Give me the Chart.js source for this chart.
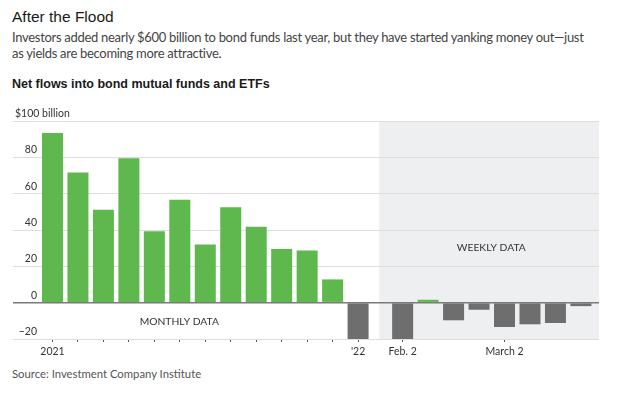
<!DOCTYPE html>
<html>
<head>
<meta charset="utf-8">
<script src="https://cdn.jsdelivr.net/npm/chart.js@4"></script>
<style>
  body { margin: 0; background: #fff; width: 624px; height: 394px; position: relative; overflow: hidden; font-family: 'Liberation Sans', Arial, sans-serif; color: #222; }
  #title { position: absolute; left: 12px; top: 8px; font-size: 15.5px; color: #1a1a1a; }
  #sub { position: absolute; left: 12px; top: 29px; font-family: Lato, 'Noto Sans', sans-serif; font-size: 13px; letter-spacing: -0.3px; line-height: 16px; color: #444; white-space: nowrap; }
  #head { position: absolute; left: 12px; top: 77px; font-size: 12.5px; font-weight: bold; color: #1a1a1a; }
  #source { position: absolute; left: 12px; top: 367px; font-family: Lato, 'Noto Sans', sans-serif; font-size: 11.3px; color: #555; }
  #wrap { position: absolute; left: 0; top: 100px; width: 624px; height: 262px; }
</style>
</head>
<body>
<div id="title">After the Flood</div>
<div id="sub">Investors added nearly $600 billion to bond funds last year, but they have started yanking money out—just<br>as yields are becoming more attractive.</div>
<div id="head">Net flows into bond mutual funds and ETFs</div>
<div id="wrap"><canvas id="barChart"></canvas></div>
<div id="source">Source: Investment Company Institute</div>
<script>
// monthly flows, Jan 2021 - Jan 2022 ($ billion)
var monthLabels = ['Jan 2021', 'Feb', 'Mar', 'Apr', 'May', 'Jun', 'Jul', 'Aug', 'Sep', 'Oct', 'Nov', 'Dec', 'Jan 2022'];
var monthFlows = [93.4, 71.6, 51.1, 79.5, 39.3, 56.6, 32.0, 52.5, 41.8, 29.5, 28.7, 12.8, -20.3];

// weekly flows since Feb. 2 ($ billion)
var weekLabels = ['Feb. 2', 'Feb. 9', 'Feb. 16', 'Feb. 23', 'March 2', 'March 9', 'March 16', 'March 23'];
var weekFlows = [-20.1, 1.6, -9.7, -3.9, -13.4, -11.9, -11.2, -1.9];

// axis labels
var yTicks = [-20, 0, 20, 40, 60, 80, 100];
var xTickText = { 'Jan 2021': '2021', 'Jan 2022': "'22", 'Feb. 2': 'Feb. 2', 'March 2': 'March 2' };

var GREEN = '#5fb84d';
var GRAY = '#6e6e6e';
var WEEK_START = 13.75; // weekly bars sit a bit further right than the monthly slots
var SHADE_FROM = 12.83;

var points = [];
var tickPos = [];
var tickName = {};
monthLabels.forEach(function(m, i) {
	points.push({ x: i, y: monthFlows[i] });
	tickPos.push(i);
	tickName[i] = xTickText[m] || '';
});
weekLabels.forEach(function(w, i) {
	var x = WEEK_START + i;
	points.push({ x: x, y: weekFlows[i] });
	if (xTickText[w]) {
		tickPos.push(x);
		tickName[x] = xTickText[w];
	}
});

var extras = {
	id: 'extras',
	beforeDraw: function(chart) {
		var c = chart.ctx, a = chart.chartArea, xs = chart.scales.x;
		c.save();
		c.fillStyle = '#eeeff1';
		var x0 = xs.getPixelForValue(SHADE_FROM);
		c.fillRect(x0, a.top, a.right - x0, a.bottom - a.top);
		c.restore();
	},
	afterDraw: function(chart) {
		var c = chart.ctx, ys = chart.scales.y, xs = chart.scales.x;
		c.save();
		c.fillStyle = '#333';
		c.font = '10.5px Lato, "Noto Sans", sans-serif';
		c.textBaseline = 'middle';
		yTicks.forEach(function(v) {
			var py = ys.getPixelForValue(v) - 7.5;
			if (v === 100) {
				c.textAlign = 'left';
				c.fillText('$100 billion', 15, py);
			} else {
				c.textAlign = 'right';
				c.fillText(String(v).replace('-', '\u2212'), 37, py);
			}
		});
		c.textAlign = 'center';
		c.font = '10.3px Lato, "Noto Sans", sans-serif';
		c.fillText('MONTHLY DATA', xs.getPixelForValue(4.98), ys.getPixelForValue(-10.7));
		c.fillText('WEEKLY DATA', xs.getPixelForValue(17.23), ys.getPixelForValue(30.2));
		c.restore();
	}
};

var ctx = document.getElementById('barChart').getContext('2d');
new Chart(ctx, {
	type: 'bar',
	data: {
		datasets: [{
			data: points,
			backgroundColor: function(c) { return c.raw && c.raw.y < 0 ? GRAY : GREEN; },
			barPercentage: 0.825,
			categoryPercentage: 1,
			borderWidth: 0
		}]
	},
	options: {
		responsive: true,
		maintainAspectRatio: false,
		animation: false,
		layout: { padding: { left: 13, right: 25, top: 21, bottom: 0 } },
		plugins: { legend: { display: false }, tooltip: { enabled: false } },
		scales: {
			x: {
				type: 'linear',
				min: -1.55,
				max: 21.46,
				offset: false,
				afterBuildTicks: function(s) { s.ticks = tickPos.map(function(v) { return { value: v }; }); },
				afterFit: function(s) { s.height = 23; },
				border: { display: false },
				grid: { offset: false, drawOnChartArea: false, drawTicks: true, tickLength: 3, color: '#555' },
				ticks: {
					autoSkip: false,
					maxRotation: 0,
					padding: 3,
					color: '#333',
					font: { family: 'Lato, "Noto Sans", sans-serif', size: 10.5 },
					callback: function(v) { return tickName[v] || ''; }
				}
			},
			y: {
				min: -20,
				max: 100,
				afterFit: function(s) { s.width = 0; },
				border: { display: false },
				grid: {
					drawTicks: false,
					color: function(c) { return c.tick.value === 0 ? '#7a7a7a' : '#dedede'; },
					lineWidth: function(c) { return c.tick.value === 0 ? 1.5 : 1; }
				},
				ticks: { display: false, stepSize: 20 }
			}
		}
	},
	plugins: [extras]
});
</script>
</body>
</html>
